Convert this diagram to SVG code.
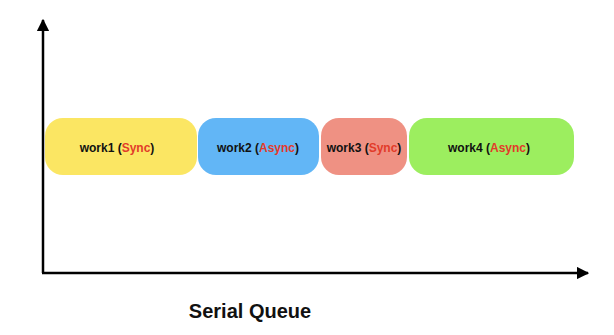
<svg xmlns="http://www.w3.org/2000/svg" width="614" height="335" viewBox="0 0 614 335">
<style>
.lbl{font-family:"Liberation Sans",Arial,sans-serif;font-weight:bold;font-size:12px;fill:#111;text-anchor:middle}
.r{fill:#e23b2a}
.ttl{font-family:"Liberation Sans",Arial,sans-serif;font-weight:bold;font-size:20px;fill:#111;text-anchor:middle}
.ax{stroke:#000;stroke-width:2.5;fill:none}
</style>
<defs>
<marker id="ah" viewBox="0 0 10 10" refX="9" refY="5" markerWidth="5" markerHeight="5" orient="auto" markerUnits="strokeWidth">
<path d="M0,0 L10,5 L0,10 z" fill="#000"/>
</marker>
</defs>
<rect width="614" height="335" fill="#fff"/>
<g id="connectors">
<path class="ax" d="M43,273 V20" marker-end="url(#ah)"/>
<path class="ax" d="M42,273 H588" marker-end="url(#ah)"/>
</g>
<g id="work1">
<rect x="45" y="118" width="152" height="57" rx="18" fill="#fbe663"/>
<text class="lbl" x="117" y="152">work1 (<tspan class="r">Sync</tspan>)</text>
</g>
<g id="work2">
<rect x="198" y="118" width="121" height="57" rx="18" fill="#62b6f6"/>
<text class="lbl" x="258" y="152">work2 (<tspan class="r">Async</tspan>)</text>
</g>
<g id="work3">
<rect x="321" y="118" width="86" height="57" rx="18" fill="#ef9183"/>
<text class="lbl" x="364" y="152">work3 (<tspan class="r">Sync</tspan>)</text>
</g>
<g id="work4">
<rect x="409" y="118" width="165" height="57" rx="18" fill="#9cee5f"/>
<text class="lbl" x="489" y="152">work4 (<tspan class="r">Async</tspan>)</text>
</g>
<text class="ttl" x="250" y="318">Serial Queue</text>
</svg>
